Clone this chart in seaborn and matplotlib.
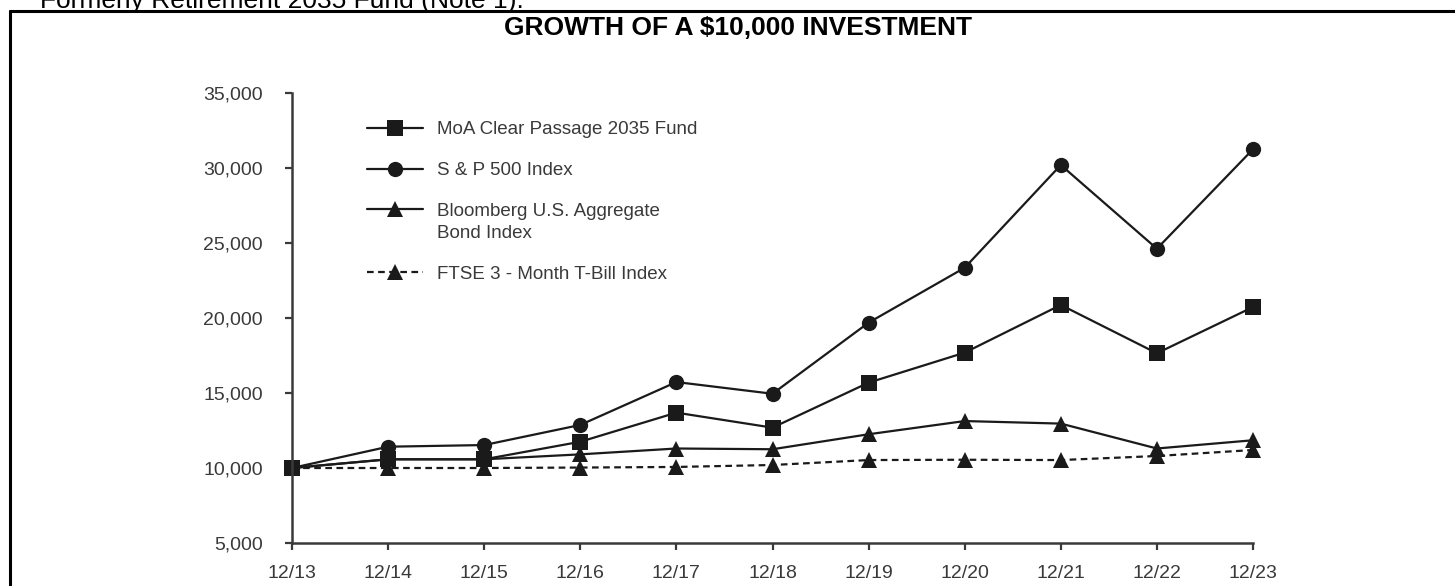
import pandas as pd
import matplotlib
matplotlib.use("Agg")
import matplotlib.pyplot as plt
from matplotlib.lines import Line2D
import seaborn as sns

# =========================
# Data
# =========================
periods = ["12/13", "12/14", "12/15", "12/16", "12/17", "12/18",
           "12/19", "12/20", "12/21", "12/22", "12/23"]

fund_vals = [10000, 10580, 10580, 11750, 13690, 12690, 15690, 17690, 20870, 17650, 20730]
sp500_vals = [10000, 11420, 11530, 12870, 15730, 14950, 19690, 23350, 30200, 24620, 31250]
bond_vals = [10000, 10580, 10580, 10910, 11300, 11250, 12250, 13130, 12960, 11300, 11850]
tbill_vals = [10000, 10000, 10000, 10030, 10070, 10200, 10530, 10550, 10530, 10800, 11200]

series_names = [
    "MoA Clear Passage 2035 Fund",
    "S & P 500 Index",
    "Bloomberg U.S. Aggregate\nBond Index",
    "FTSE 3 - Month T-Bill Index",
]
series_vals = [fund_vals, sp500_vals, bond_vals, tbill_vals]

y_ticks = [5000, 10000, 15000, 20000, 25000, 30000, 35000]

# =========================
# Style
# =========================
sns.set_theme(style="ticks")
plt.rcParams["font.family"] = ["Liberation Sans", "DejaVu Sans"]

ink = "#1a1a1a"
grey = "#3a3a3a"
markers = dict(zip(series_names, ["s", "o", "^", "^"]))
dashes = dict(zip(series_names, ["", "", "", (3, 2)]))
palette = {n: ink for n in series_names}

# long format
records = []
for name, vals in zip(series_names, series_vals):
    for i, (p, v) in enumerate(zip(periods, vals)):
        records.append({"pos": i, "period": p, "value": v, "series": name})
long_df = pd.DataFrame(records)

# =========================
# Figure
# =========================
fig = plt.figure(figsize=(14.55, 5.86), dpi=100)
ax = fig.add_axes([292 / 1455, 1 - 543 / 586, (1253 - 292) / 1455, (543 - 93) / 586])

sns.lineplot(
    data=long_df,
    x="pos",
    y="value",
    hue="series",
    style="series",
    hue_order=series_names,
    style_order=series_names,
    palette=palette,
    markers=markers,
    dashes=dashes,
    markersize=11,
    markeredgewidth=0,
    linewidth=1.6,
    legend=False,
    ax=ax,
)
for ln in ax.lines:
    ln.set_clip_on(False)

ax.set_xlim(0, len(periods) - 1)
ax.set_ylim(y_ticks[0], y_ticks[-1])
ax.set_xticks(range(len(periods)))
ax.set_xticklabels(periods)
ax.set_yticks(y_ticks)
ax.set_yticklabels([f"{t:,}" for t in y_ticks])
ax.set_xlabel("")
ax.set_ylabel("")

for side in ["top", "right"]:
    ax.spines[side].set_visible(False)
for side in ["left", "bottom"]:
    ax.spines[side].set_linewidth(1.8)
    ax.spines[side].set_color(grey)

ax.tick_params(axis="y", direction="out", length=5, width=1.6, color=grey,
               labelsize=14, labelcolor=grey, pad=16)
ax.tick_params(axis="x", direction="out", length=5, width=1.6, color=grey,
               labelsize=14, labelcolor=grey, pad=11)

# legend
handles = []
for n in series_names:
    h = Line2D([], [], color=ink, lw=1.6, marker=markers[n], markersize=11,
               markeredgewidth=0)
    if dashes[n]:
        h.set_dashes(dashes[n])
    handles.append(h)

leg = ax.legend(
    handles,
    series_names,
    loc="upper left",
    bbox_to_anchor=(367 / 1455, 1 - 121 / 586),
    bbox_transform=fig.transFigure,
    frameon=False,
    fontsize=13.5,
    handlelength=3.0,
    handletextpad=0.75,
    labelspacing=1.27,
    borderpad=0,
    borderaxespad=0,
)
for t in leg.get_texts():
    t.set_color(grey)
leg.get_texts()[2].set_linespacing(1.4)

# the two-line entry: put its handle level with the first line
two_line = leg.legend_handles[2]
two_line.set_ydata(two_line.get_ydata() + 10)

# title and header text
fig.text(738 / 1455, 1 - 28 / 586, "GROWTH OF A $10,000 INVESTMENT",
         ha="center", va="center", fontsize=19, fontweight="bold", color="black")
fig.text(40 / 1455, 1 - 8 / 586, "Formerly Retirement 2035 Fund (Note 1).",
         ha="left", va="baseline", fontsize=19, color="black")

# frame around the chart (right and bottom run off the page)
fig.add_artist(Line2D([10 / 1455, 1.0], [1 - 11 / 586, 1 - 11 / 586],
                      transform=fig.transFigure, color="black", lw=2.2))
fig.add_artist(Line2D([10 / 1455, 10 / 1455], [0.0, 1 - 11 / 586],
                      transform=fig.transFigure, color="black", lw=2.2))

fig.savefig("out.png", dpi=100)
plt.close(fig)
